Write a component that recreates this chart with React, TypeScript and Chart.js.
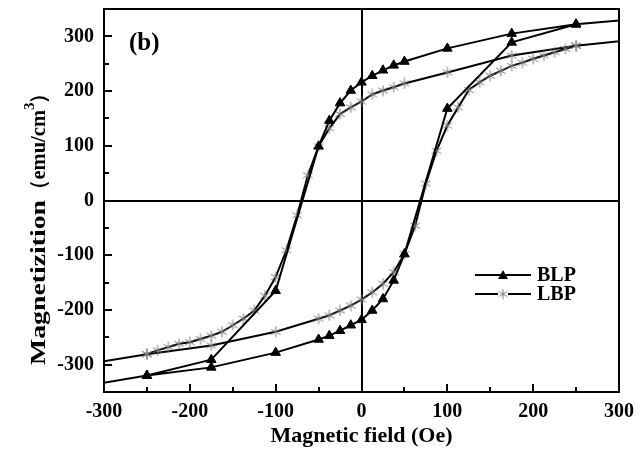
import React, { useEffect, useRef } from 'react';
import { Chart, registerables } from 'chart.js';

Chart.register(...registerables);

// ---- Data (Oe, emu/cm^3) ----
// BLP: descending branch (from +H to -H), then ascending branch
const blpDescX = [350, 250, 175, 100, 50, 37.5, 25, 12.5, 0, -12.5, -25, -37.5, -50, -100, -175, -250, -350];
const blpDescY = [336, 322, 305, 278, 254, 247, 238, 228, 216, 201, 178, 146, 99, -165, -291, -320, -346];
const blpAscX = [-250, -175, -100, -50, -37.5, -25, -12.5, 0, 12.5, 25, 37.5, 50, 100, 175, 250, 350];
const blpAscY = [-320, -305, -278, -254, -247, -238, -228, -218, -201, -180, -146, -98, 168, 289, 322, 336];

// LBP
const lbpDescX = [350, 250, 175, 100, 50, 37.5, 25, 12.5, 0, -12.5, -25, -37.5, -50, -62.5, -75, -87.5, -100, -112.5, -125, -137.5, -150, -162.5, -175, -187.5, -200, -212.5, -225, -237.5, -250, -350];
const lbpDescY = [299, 283, 265, 234, 214, 207, 201, 194, 181, 170, 158, 132, 99, 46, -27, -91, -140, -174, -201, -216, -228, -240, -247, -253, -259, -262, -268, -274, -281, -307];
const lbpAscX = [-250, -175, -100, -50, -37.5, -25, -12.5, 0, 12.5, 25, 37.5, 50, 62.5, 75, 87.5, 100, 112.5, 125, 137.5, 150, 162.5, 175, 187.5, 200, 212.5, 225, 237.5, 250, 350];
const lbpAscY = [-281, -265, -240, -216, -210, -201, -192, -181, -168, -152, -131, -98, -46, 31, 91, 137, 170, 202, 216, 228, 237, 246, 252, 259, 265, 271, 277, 283, 299];

const seriesNames = ['BLP', 'LBP'];
const xTickValues = [-300, -250, -200, -150, -100, -50, 0, 50, 100, 150, 200, 250, 300];
const yTickValues = [-300, -250, -200, -150, -100, -50, 0, 50, 100, 150, 200, 250, 300];
const xTitle = 'Magnetic field (Oe)';
const yTitleMain = 'Magnetizition';
const yTitleUnit = '（emu/cm';
const yTitleSup = '3';
const yTitleEnd = '）';
const panelLabel = '(b)';

const FONT = "'Times New Roman', 'Liberation Serif', serif";

function zip(xs: number[], ys: number[]) {
  return xs.map((x, i) => ({ x, y: ys[i] }));
}

function makeStar(size: number, color: string): HTMLCanvasElement {
  const c = document.createElement('canvas');
  c.width = size;
  c.height = size;
  const g = c.getContext('2d')!;
  g.strokeStyle = color;
  g.lineWidth = 1;
  const m = size / 2;
  const r = size / 2 - 0.5;
  g.beginPath();
  g.moveTo(m, m - r);
  g.lineTo(m, m + r);
  const dx = r * Math.cos(Math.PI / 6);
  const dy = r * Math.sin(Math.PI / 6);
  g.moveTo(m - dx, m - dy);
  g.lineTo(m + dx, m + dy);
  g.moveTo(m - dx, m + dy);
  g.lineTo(m + dx, m - dy);
  g.stroke();
  return c;
}

const starPoint = makeStar(12, '#7a7a7a');
const starLegend = makeStar(11, '#7a7a7a');

const decorPlugin = {
  id: 'decor',
  afterDraw(chart: any) {
    const { ctx, chartArea: a, scales } = chart;
    const xs = scales.x;
    const ys = scales.y;
    ctx.save();
    ctx.strokeStyle = '#000';
    ctx.lineWidth = 2;
    ctx.strokeRect(a.left, a.top, a.right - a.left, a.bottom - a.top);
    ctx.beginPath();
    for (const v of xTickValues) {
      const px = Math.round(xs.getPixelForValue(v));
      const len = v % 100 === 0 ? 8 : 5;
      ctx.moveTo(px, a.bottom);
      ctx.lineTo(px, a.bottom - len);
    }
    for (const v of yTickValues) {
      const py = Math.round(ys.getPixelForValue(v));
      const len = v % 100 === 0 ? 8 : 5;
      ctx.moveTo(a.left, py);
      ctx.lineTo(a.left + len, py);
    }
    ctx.stroke();

    ctx.fillStyle = '#000';
    // x title
    ctx.font = `bold 22px ${FONT}`;
    ctx.textAlign = 'center';
    ctx.textBaseline = 'alphabetic';
    ctx.fillText(xTitle, (a.left + a.right) / 2, 442);

    // y title (rotated)
    ctx.save();
    ctx.translate(45, 365);
    ctx.rotate(-Math.PI / 2);
    ctx.font = `bold 21px ${FONT}`;
    ctx.textAlign = 'left';
    const wMain = ctx.measureText(yTitleMain).width;
    const sMain = 165 / wMain;
    ctx.save();
    ctx.scale(sMain, 1);
    ctx.fillText(yTitleMain, 0, 0);
    ctx.restore();
    let pos = 165;
    const wUnit = ctx.measureText(yTitleUnit).width;
    const sUnit = 90 / wUnit;
    ctx.save();
    ctx.translate(pos, 0);
    ctx.scale(sUnit, 1);
    ctx.fillText(yTitleUnit, 0, 0);
    ctx.restore();
    pos += 90;
    ctx.font = `bold 15px ${FONT}`;
    ctx.fillText(yTitleSup, pos, -11);
    pos += 6;
    ctx.font = `bold 21px ${FONT}`;
    ctx.fillText(yTitleEnd, pos, 0);
    ctx.restore();

    // panel label
    ctx.font = `bold 25px ${FONT}`;
    ctx.textAlign = 'left';
    ctx.fillText(panelLabel, 129, 50);

    // legend
    const lx0 = 475, lx1 = 531, lmid = 503;
    const rows = [275, 294];
    ctx.lineWidth = 2;
    ctx.strokeStyle = '#000';
    for (const ry of rows) {
      ctx.beginPath();
      ctx.moveTo(lx0, ry);
      ctx.lineTo(lx1, ry);
      ctx.stroke();
    }
    ctx.beginPath();
    ctx.moveTo(lmid, rows[0] - 5);
    ctx.lineTo(lmid + 5, rows[0] + 4);
    ctx.lineTo(lmid - 5, rows[0] + 4);
    ctx.closePath();
    ctx.fill();
    ctx.fillStyle = '#fff';
    ctx.fillRect(lmid - 5, rows[1] - 5, 10, 10);
    ctx.drawImage(starLegend, lmid - 5.5, rows[1] - 5.5);
    ctx.fillStyle = '#000';
    ctx.font = `bold 20px ${FONT}`;
    ctx.textBaseline = 'middle';
    ctx.fillText(seriesNames[0], 537, rows[0] + 1);
    ctx.fillText(seriesNames[1], 537, rows[1] + 1);
    ctx.restore();
  },
};

export default function App() {
  const ref = useRef<HTMLCanvasElement | null>(null);
  useEffect(() => {
    if (!ref.current) return;
    const tickFont = { family: FONT, size: 20, weight: 'bold' as const };
    const chart = new Chart(ref.current, {
      type: 'scatter',
      data: {
        datasets: [
          {
            label: seriesNames[0],
            data: [...zip(blpDescX, blpDescY), ...zip(blpAscX, blpAscY)],
            showLine: true,
            borderColor: '#000',
            borderWidth: 2,
            backgroundColor: '#000',
            pointStyle: 'triangle',
            pointRadius: 5.5,
            pointBorderWidth: 1,
            tension: 0,
            clip: 0,
          },
          {
            label: seriesNames[1],
            data: [...zip(lbpDescX, lbpDescY), ...zip(lbpAscX, lbpAscY)],
            showLine: true,
            borderColor: '#000',
            borderWidth: 2,
            backgroundColor: '#000',
            pointStyle: starPoint as any,
            pointRadius: 6,
            tension: 0,
            clip: 0,
          },
        ],
      },
      options: {
        responsive: false,
        animation: false,
        devicePixelRatio: 1,
        layout: { padding: { top: 9, right: 25, bottom: 0, left: 0 } },
        plugins: {
          legend: { display: false },
          tooltip: { enabled: false },
        },
        scales: {
          x: {
            type: 'linear',
            min: -300,
            max: 300,
            afterFit: (s: any) => { s.height = 60; s.paddingLeft = 0; s.paddingRight = 0; },
            ticks: {
              stepSize: 50,
              padding: 8,
              color: '#000',
              font: tickFont,
              maxRotation: 0,
              autoSkip: false,
              callback: (v: any) => (Number(v) % 100 === 0 ? String(v) : ''),
            },
            grid: {
              drawTicks: false,
              lineWidth: 2,
              color: (c: any) => (c.tick && c.tick.value === 0 ? '#000' : 'rgba(0,0,0,0)'),
            },
            border: { display: false },
          },
          y: {
            type: 'linear',
            min: -350,
            max: 350,
            afterFit: (s: any) => { s.width = 104; s.paddingTop = 0; s.paddingBottom = 0; },
            ticks: {
              stepSize: 50,
              padding: 10,
              color: '#000',
              font: tickFont,
              autoSkip: false,
              callback: (v: any) => (Number(v) % 100 === 0 && Math.abs(Number(v)) <= 300 ? String(v) : ''),
            },
            grid: {
              drawTicks: false,
              lineWidth: 2,
              color: (c: any) => (c.tick && c.tick.value === 0 ? '#000' : 'rgba(0,0,0,0)'),
            },
            border: { display: false },
          },
        },
      },
      plugins: [decorPlugin],
    });
    return () => chart.destroy();
  }, []);
  return (
    <div style={{ position: 'fixed', left: 0, top: 0, width: 644, height: 452, background: '#fff' }}>
      <canvas ref={ref} width={644} height={452} style={{ width: 644, height: 452, display: 'block' }} />
    </div>
  );
}
